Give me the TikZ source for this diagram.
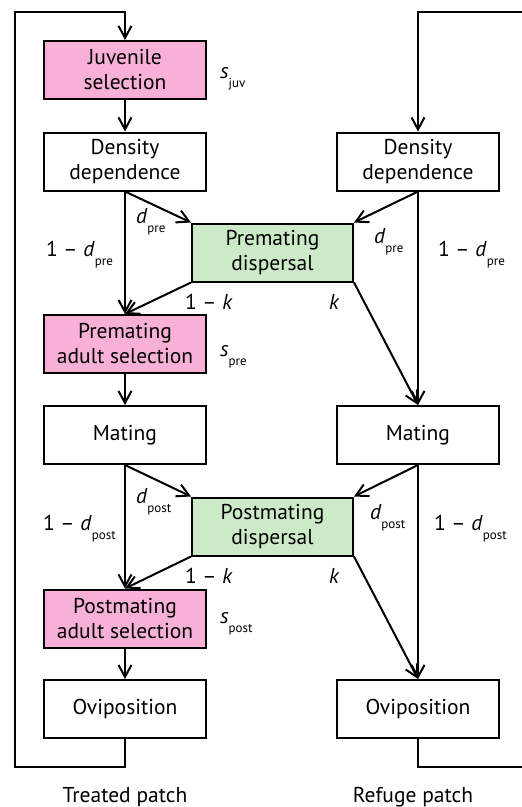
\documentclass[tikz,border=0pt]{standalone}
\usepackage{fontspec}
\setmainfont{PT Sans}
\usetikzlibrary{arrows.meta}
\definecolor{pinkfill}{RGB}{248,176,214}
\definecolor{greenfill}{RGB}{205,234,200}
\newcommand{\lsub}[1]{\raisebox{-0.42em}{\fontsize{13}{14}\selectfont #1}}
\begin{document}
\begin{tikzpicture}[x=1pt,y=-1pt, line width=2pt,
  box/.style={draw, minimum width=162pt, minimum height=58pt, align=center, inner sep=0pt, font=\fontsize{21.5}{25}\selectfont},
  sel/.style={box, fill=pinkfill},
  disp/.style={box, fill=greenfill, minimum width=161pt},
  arr/.style={-{Straight Barb[length=12pt,width=13pt]}},
  lab/.style={font=\fontsize{21.5}{25}\selectfont, inner sep=0pt, anchor=base west}]
\useasboundingbox (0,0) rectangle (522,807);
% boxes
\node[sel]  (juv)  at (125,70)    {Juvenile\\selection};
\node[box]  (ddL)  at (125,161.5) {Density\\dependence};
\node[box]  (ddR)  at (418,161.5) {Density\\dependence};
\node[disp] (pre)  at (272.5,252.5) {Premating\\dispersal};
\node[sel]  (pas)  at (125,344)   {Premating\\adult selection};
\node[box]  (matL) at (125,435)   {Mating};
\node[box]  (matR) at (418,435)   {Mating};
\node[disp] (post) at (272.5,526.5) {Postmating\\dispersal};
\node[sel]  (poas) at (125,618.5) {Postmating\\adult selection};
\node[box]  (ovL)  at (125,709)   {Oviposition};
\node[box]  (ovR)  at (418,709)   {Oviposition};
% loop corners
\coordinate (lb) at (15,767);
\coordinate (lt) at (15,12);
\coordinate (rb) at (524,767);
\coordinate (rt) at (524,12);
% connectors
\draw[arr] (ovL.south) |- (lb) -- (lt) -| (juv.north);
\draw (ovR.south) |- (rb);
\draw[arr] (rt) -| (ddR.north);
\draw[arr] (juv) -- (ddL);
\draw[arr] (ddL.south) -- (pre.north west);
\draw[arr] (ddL.south) -- (pas.north);
\draw[arr] (pre.south west) -- (pas.north);
\draw[arr] (ddR.south) -- (pre.north east);
\draw[arr] (ddR.south) -- (matR.north);
\draw[arr] (pre.south east) -- (matR.north);
\draw[arr] (pas) -- (matL);
\draw[arr] (matL.south) -- (post.north west);
\draw[arr] (matL.south) -- (poas.north);
\draw[arr] (post.south west) -- (poas.north);
\draw[arr] (matR.south) -- (post.north east);
\draw[arr] (matR.south) -- (ovR.north);
\draw[arr] (post.south east) -- (ovR.north);
\draw[arr] (poas) -- (ovL);
% parameter labels
\node[lab] (sjuv)  at (219,78)  {\textit{s}\lsub{juv}};
\node[lab] (spre)  at (219,356) {\textit{s}\lsub{pre}};
\node[lab] (spost) at (219,623) {\textit{s}\lsub{post}};
\node[lab] (dpL)   at (135,223) {\textit{d}\lsub{pre}};
\node[lab] (ndpL)  at (45,256)  {1 – \textit{d}\lsub{pre}};
\node[lab] (kpL)   at (184,309) {1 – \textit{k}};
\node[lab] (kpR)   at (328,309) {\textit{k}};
\node[lab] (dpR)   at (373,243) {\textit{d}\lsub{pre}};
\node[lab] (ndpR)  at (437,256) {1 – \textit{d}\lsub{pre}};
\node[lab] (dqL)   at (135,503) {\textit{d}\lsub{post}};
\node[lab] (ndqL)  at (42,530)  {1 – \textit{d}\lsub{post}};
\node[lab] (kqL)   at (184,583) {1 – \textit{k}};
\node[lab] (kqR)   at (328,583) {\textit{k}};
\node[lab] (dqR)   at (369,519) {\textit{d}\lsub{post}};
\node[lab] (ndqR)  at (433,530) {1 – \textit{d}\lsub{post}};
% patch titles
\node[lab, anchor=base] (treated) at (125,802) {Treated patch};
\node[lab, anchor=base] (refuge)  at (413,802) {Refuge patch};
\end{tikzpicture}
\end{document}
